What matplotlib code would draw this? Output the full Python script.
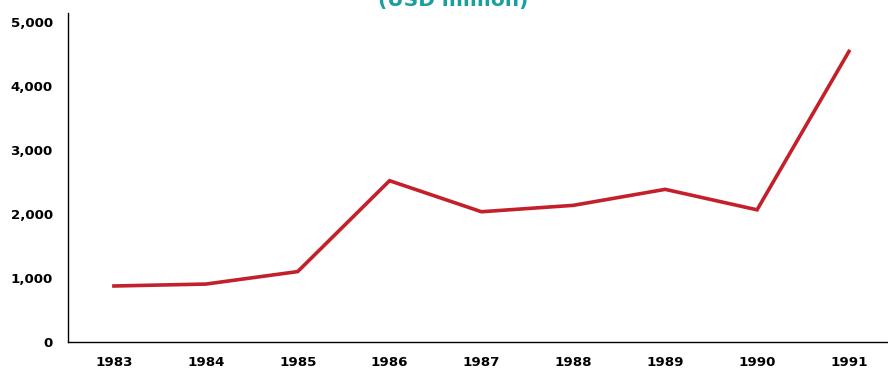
import matplotlib
matplotlib.use("Agg")
import matplotlib.pyplot as plt

years = ["1983", "1984", "1985", "1986", "1987", "1988", "1989", "1990", "1991"]
values = [875, 905, 1100, 2520, 2035, 2135, 2385, 2065, 4540]
y_ticks = [0, 1000, 2000, 3000, 4000, 5000]
title = "(USD million)"

plt.rcParams["font.family"] = ["DejaVu Sans"]

W, H = 888, 370
fig = plt.figure(figsize=(W / 100, H / 100), dpi=100)
ax = fig.add_axes([68 / W, (H - 342) / H, (W - 68) / W, (342 - 13) / H])

x = list(range(len(years)))
ax.plot(x, values, color="#c3202b", linewidth=2.6, solid_joinstyle="miter")

ax.set_xlim(-0.5, -0.5 + (W - 68) / 91.875)
ax.set_ylim(0, 5140)
ax.set_xticks(x)
ax.set_xticklabels(years)
ax.set_yticks(y_ticks)
ax.set_yticklabels([f"{v:,}" for v in y_ticks])
ax.tick_params(axis="both", length=0, labelsize=9.6)
ax.tick_params(axis="y", pad=11)
ax.tick_params(axis="x", pad=10)
for lbl in ax.get_xticklabels() + ax.get_yticklabels():
    lbl.set_fontweight("bold")

for side in ("top", "right"):
    ax.spines[side].set_visible(False)
for side in ("left", "bottom"):
    ax.spines[side].set_linewidth(1.0)
    ax.spines[side].set_color("black")

fig.text(453 / W, 1 - 6 / H, title, ha="center", va="baseline",
         fontsize=14.5, fontweight="bold", color="#1a9f9f")

fig.savefig("out.png", dpi=100)
